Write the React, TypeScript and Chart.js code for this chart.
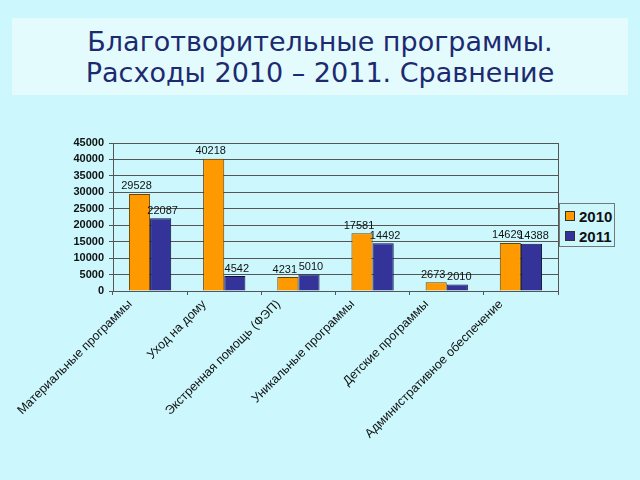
import React, { useEffect, useRef } from "react";
import { Chart, registerables } from "chart.js";

Chart.register(...registerables);

const categories = [
  "Материальные программы",
  "Уход на дому",
  "Экстренная помощь (ФЭП)",
  "Уникальные программы",
  "Детские программы",
  "Административное обеспечение",
];
const values2010 = [29528, 40218, 4231, 17581, 2673, 14629];
const values2011 = [22087, 4542, 5010, 14492, 2010, 14388];
const seriesNames = ["2010", "2011"];
const yMax = 45000;
const yStep = 5000;
const titleLines = ["Благотворительные программы.", "Расходы 2010 – 2011. Сравнение"];

const BG = "#CCF8FD";
const ORANGE = "#FF9900";
const NAVY = "#333399";
const FONT = "'Liberation Sans', Arial, sans-serif";

const valueLabels = {
  id: "valueLabels",
  afterDatasetsDraw(chart: any) {
    const ctx = chart.ctx;
    ctx.save();
    ctx.font = `11px ${FONT}`;
    ctx.fillStyle = "#111";
    ctx.textAlign = "center";
    ctx.textBaseline = "bottom";
    chart.data.datasets.forEach((ds: any, i: number) => {
      const meta = chart.getDatasetMeta(i);
      meta.data.forEach((bar: any, j: number) => {
        ctx.fillText(String(ds.data[j]), bar.x + (i === 0 ? -3 : 2), bar.y - 2);
      });
    });
    ctx.restore();
  },
};

const plotBorder = {
  id: "plotBorder",
  afterDraw(chart: any) {
    const { ctx, chartArea } = chart;
    ctx.save();
    ctx.strokeStyle = "#555";
    ctx.lineWidth = 1;
    ctx.beginPath();
    ctx.moveTo(Math.round(chartArea.right) + 0.5, chartArea.top);
    ctx.lineTo(Math.round(chartArea.right) + 0.5, chartArea.bottom);
    ctx.stroke();
    ctx.restore();
  },
};

export default function App() {
  const ref = useRef<HTMLCanvasElement>(null);
  useEffect(() => {
    if (!ref.current) return;
    const chart = new Chart(ref.current, {
      type: "bar",
      data: {
        labels: categories,
        datasets: [
          {
            label: seriesNames[0],
            data: values2010,
            backgroundColor: ORANGE,
            borderColor: "#6B4200",
            borderWidth: 1,
            categoryPercentage: 0.57,
            barPercentage: 1.0,
          },
          {
            label: seriesNames[1],
            data: values2011,
            backgroundColor: NAVY,
            borderColor: "#10103A",
            borderWidth: 1,
            categoryPercentage: 0.57,
            barPercentage: 1.0,
          },
        ],
      },
      options: {
        animation: false,
        responsive: false,
        maintainAspectRatio: false,
        layout: { padding: { left: 0, top: 143, right: 82, bottom: 0 } },
        plugins: {
          legend: { display: false },
          tooltip: { enabled: false },
          title: { display: false },
        },
        scales: {
          x: {
            afterFit: (scale: any) => {
              scale.height = 189;
              scale.paddingLeft = 0;
              scale.paddingRight = 0;
            },
            grid: {
              drawOnChartArea: false,
              drawTicks: true,
              tickLength: 4,
              color: "#555",
              offset: true,
            },
            border: { display: true, color: "#555" },
            ticks: {
              minRotation: 45,
              maxRotation: 45,
              autoSkip: false,
              padding: 2,
              labelOffset: -20,
              color: "#111",
              font: { family: FONT, size: 12.5 },
            },
          },
          y: {
            min: 0,
            max: yMax,
            afterFit: (scale: any) => {
              scale.width = 113;
            },
            grid: { color: "#555", lineWidth: 1, tickLength: 4 },
            border: { display: true, color: "#555" },
            ticks: {
              stepSize: yStep,
              padding: 5,
              color: "#111",
              font: { family: FONT, size: 11, weight: "bold" },
              callback: (v: any) => String(v),
            },
          },
        },
      },
      plugins: [valueLabels, plotBorder],
    });
    return () => chart.destroy();
  }, []);

  return (
    <div
      style={{
        position: "absolute",
        left: 0,
        top: 0,
        width: 640,
        height: 480,
        background: BG,
        overflow: "hidden",
      }}
    >
      <div
        style={{
          position: "absolute",
          left: 12,
          top: 18,
          width: 616,
          height: 77,
          background: "#E4FBFE",
          color: "#1E2A70",
          fontFamily: "'DejaVu Sans', sans-serif",
          fontSize: 27,
          lineHeight: "31px",
          textAlign: "center",
          paddingTop: 8,
          boxSizing: "border-box",
        }}
      >
        <div>{titleLines[0]}</div>
        <div>{titleLines[1]}</div>
      </div>
      <canvas
        ref={ref}
        width={640}
        height={480}
        style={{ position: "absolute", left: 0, top: 0, width: 640, height: 480 }}
      />
      <div
        style={{
          position: "absolute",
          left: 559,
          top: 203,
          width: 56,
          height: 44,
          border: "1px solid #777",
          boxSizing: "border-box",
          background: BG,
          fontFamily: FONT,
          fontSize: 15,
          fontWeight: "bold",
          color: "#111",
        }}
      >
        {seriesNames.map((n, i) => (
          <div
            key={n}
            style={{
              position: "absolute",
              left: 5,
              top: 3 + i * 20,
              height: 18,
              display: "flex",
              alignItems: "center",
            }}
          >
            <span
              style={{
                display: "inline-block",
                width: 8,
                height: 8,
                background: i === 0 ? ORANGE : NAVY,
                border: "1px solid #333",
                marginRight: 4,
              }}
            />
            <span>{n}</span>
          </div>
        ))}
      </div>
    </div>
  );
}
